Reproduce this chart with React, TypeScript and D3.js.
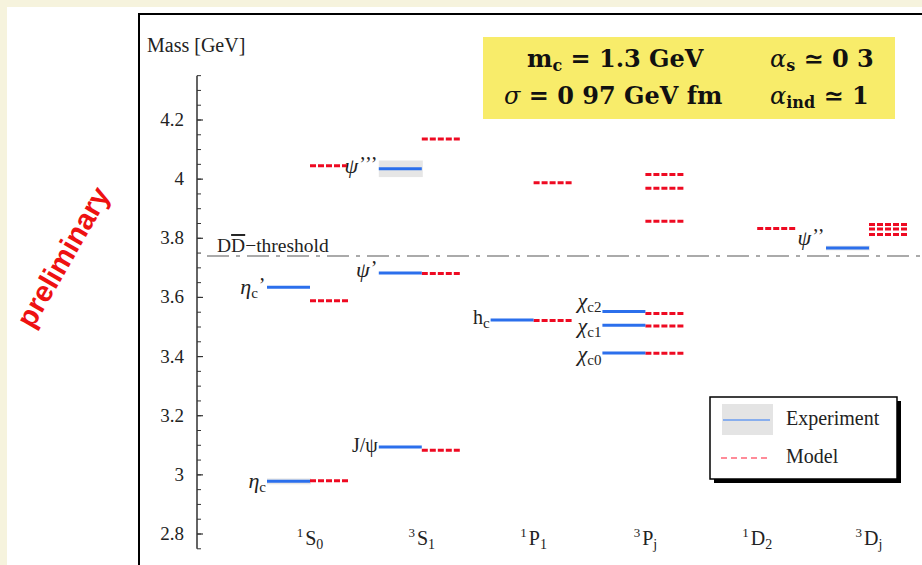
import React from "react";
import * as d3 from "d3";

// spectroscopic columns (x axis)
const columns = ["1S0", "3S1", "1P1", "3Pj", "1D2", "3Dj"];
const colSup = ["1", "3", "1", "3", "1", "3"];
const colMain = ["S", "S", "P", "P", "D", "D"];
const colSub = ["0", "1", "1", "j", "2", "j"];

// measured states [GeV]
const expCol = ["1S0", "1S0", "3S1", "3S1", "3S1", "1P1", "3Pj", "3Pj", "3Pj", "3Dj"];
const expMass = [2.978, 3.634, 3.094, 3.683, 4.035, 3.524, 3.552, 3.506, 3.412, 3.767];
const expErr = [0.01, 0, 0, 0, 0.028, 0, 0, 0, 0, 0.008];
const expSym = ["η", "η", "J/ψ", "ψ", "ψ", "h", "χ", "χ", "χ", "ψ"];
const expSubs = ["c", "c", "", "", "", "c", "c2", "c1", "c0", ""];
const expPrime = ["", "’", "", "’", "’’’", "", "", "", "", "’’"];

// model predictions [GeV]
const modelCol = ["1S0", "1S0", "1S0", "3S1", "3S1", "3S1", "1P1", "1P1",
  "3Pj", "3Pj", "3Pj", "3Pj", "3Pj", "3Pj", "1D2", "3Dj", "3Dj", "3Dj"];
const modelMass = [2.98, 3.589, 4.045, 3.083, 3.681, 4.136, 3.522, 3.988,
  3.411, 3.503, 3.546, 3.858, 3.969, 4.016, 3.833, 3.813, 3.831, 3.847];

const threshold = 3.74;
const tickVals = [2.8, 3, 3.2, 3.4, 3.6, 3.8, 4, 4.2];
const tickLabels = ["2.8", "3", "3.2", "3.4", "3.6", "3.8", "4", "4.2"];

// label nudges (dy relative to the bar)
const labelDy = [7, 7, 5, 4, 4, 4, -4, 8, 8, -3];

const serif = "'Liberation Serif', 'Times New Roman', serif";
const blue = "#2b6fec";
const red = "#ee0a22";

export default function App() {
  const W = 922, H = 565;
  const y = d3.scaleLinear().domain([2.8, 4.2]).range([534, 120]);
  const x = d3.scalePoint<string>().domain(columns).range([310, 869]);
  const minor = d3.range(2.75, 4.351, 0.05);
  const halfL = 43, halfR = 38;

  return (
    <svg width={W} height={H} style={{ display: "block", position: "absolute", left: 0, top: 0 }}>
      <rect x={0} y={0} width={W} height={H} fill="#f6f3dd" />
      <rect x={7} y={7} width={W - 7} height={H - 7} fill="#fff" />
      {/* frame */}
      <line x1={139} x2={139} y1={13} y2={H} stroke="#000" strokeWidth={2} />
      <line x1={138} x2={W} y1={14} y2={14} stroke="#000" strokeWidth={2} />

      {/* preliminary stamp */}
      <text transform="translate(63,257) rotate(-60)" textAnchor="middle" dominantBaseline="central"
        fontFamily="'Liberation Sans', Arial, sans-serif" fontWeight="bold" fontSize={29} fill="#ee1111">
        preliminary
      </text>

      {/* y axis */}
      <text x={147} y={52} fontFamily={serif} fontSize={20} fill="#222">Mass [GeV]</text>
      <line x1={197} x2={197} y1={y(4.35)} y2={y(2.75)} stroke="#111" strokeWidth={1.3} />
      {minor.map((v, i) => (
        <line key={"m" + i} x1={197} x2={201} y1={y(v)} y2={y(v)} stroke="#333" strokeWidth={1} />
      ))}
      {tickVals.map((v, i) => (
        <g key={"t" + i}>
          <line x1={197} x2={203} y1={y(v)} y2={y(v)} stroke="#333" strokeWidth={1.2} />
          <text x={184} y={y(v) + 6} textAnchor="end" fontFamily={serif} fontSize={19} fill="#222">
            {tickLabels[i]}
          </text>
        </g>
      ))}

      {/* x labels */}
      {columns.map((c, i) => (
        <text key={c} x={x(c)} y={545} textAnchor="middle" fontFamily={serif} fontSize={20} fill="#222">
          <tspan fontSize={13} dy={-8}>{colSup[i]}</tspan>
          <tspan dx={2} dy={8}>{colMain[i]}</tspan>
          <tspan fontSize={14} dy={4}>{colSub[i]}</tspan>
        </text>
      ))}

      {/* threshold */}
      <line x1={207} x2={W} y1={y(threshold)} y2={y(threshold)} stroke="#aaa" strokeWidth={2}
        strokeDasharray="22 7 4 7" />
      <text x={217} y={y(threshold) - 4} fontFamily={serif} fontSize={19.5} fill="#222">
        D<tspan style={{ textDecoration: "overline" }}>D</tspan>−threshold
      </text>

      {/* error bands */}
      {expCol.map((c, i) => expErr[i] > 0 ? (
        <rect key={"e" + i} x={(x(c) as number) - halfL} width={halfL + 1}
          y={y(expMass[i] + expErr[i])} height={y(expMass[i] - expErr[i]) - y(expMass[i] + expErr[i])}
          fill="#e6e6e6" />
      ) : null)}

      {/* model */}
      {modelCol.map((c, i) => (
        <line key={"md" + i} x1={x(c) as number} x2={(x(c) as number) + halfR}
          y1={y(modelMass[i])} y2={y(modelMass[i])} stroke={red} strokeWidth={3} strokeDasharray="6 2" />
      ))}

      {/* experiment */}
      {expCol.map((c, i) => {
        const x0 = (x(c) as number) - halfL;
        const upright = expSym[i] === "h" || expSym[i] === "J/ψ";
        return (
          <g key={"x" + i}>
            <line x1={x0} x2={x(c) as number} y1={y(expMass[i])} y2={y(expMass[i])} stroke={blue} strokeWidth={3} />
            <text x={x0 - 1} y={y(expMass[i]) + labelDy[i]} textAnchor="end" fontFamily={serif} fontSize={20} fill="#222">
              <tspan fontStyle={upright ? "normal" : "italic"} fontSize={upright ? 20 : 22}>{expSym[i]}</tspan>
              {expSubs[i] ? <tspan fontSize={15} dy={4}>{expSubs[i]}</tspan> : null}
              {expPrime[i] ? <tspan fontSize={20} letterSpacing={0.5} dx={1} dy={expSubs[i] ? -6 : -2}>{expPrime[i]}</tspan> : null}
            </text>
          </g>
        );
      })}

      {/* parameter box */}
      <rect x={483} y={37} width={412} height={82} fill="#f8ec6a" />
      <g fontFamily="'DejaVu Serif', serif" fontWeight="bold" fontSize={24} fill="#111">
        <text x={527} y={67}>m<tspan fontSize={16} dy={4}>c</tspan><tspan dy={-4}> = 1.3 GeV</tspan></text>
        <text x={770} y={67}><tspan fontStyle="italic" fontWeight="normal">α</tspan><tspan fontSize={16} dy={4}>s</tspan><tspan dy={-4}> ≃ 0 3</tspan></text>
        <text x={504} y={104}><tspan fontStyle="italic" fontWeight="normal">σ</tspan> = 0 97 GeV  fm</text>
        <text x={770} y={104}><tspan fontStyle="italic" fontWeight="normal">α</tspan><tspan fontSize={16} dy={4}>ind</tspan><tspan dy={-4}> ≃ 1</tspan></text>
      </g>

      {/* legend */}
      <rect x={714} y={401} width={187} height={82} fill="#000" />
      <rect x={710} y={397} width={187} height={82} fill="#fff" stroke="#000" strokeWidth={1.5} />
      <rect x={722} y={404} width={51} height={31} fill="#e4e4e4" />
      <line x1={723} x2={770} y1={420} y2={420} stroke="#6a9cf0" strokeWidth={1.6} />
      <text x={786} y={425} fontFamily={serif} fontSize={20} fill="#222">Experiment</text>
      <line x1={721} x2={770} y1={458} y2={458} stroke="#ff6677" strokeWidth={1.4} strokeDasharray="6 4" />
      <text x={786} y={463} fontFamily={serif} fontSize={20} fill="#222">Model</text>
    </svg>
  );
}
